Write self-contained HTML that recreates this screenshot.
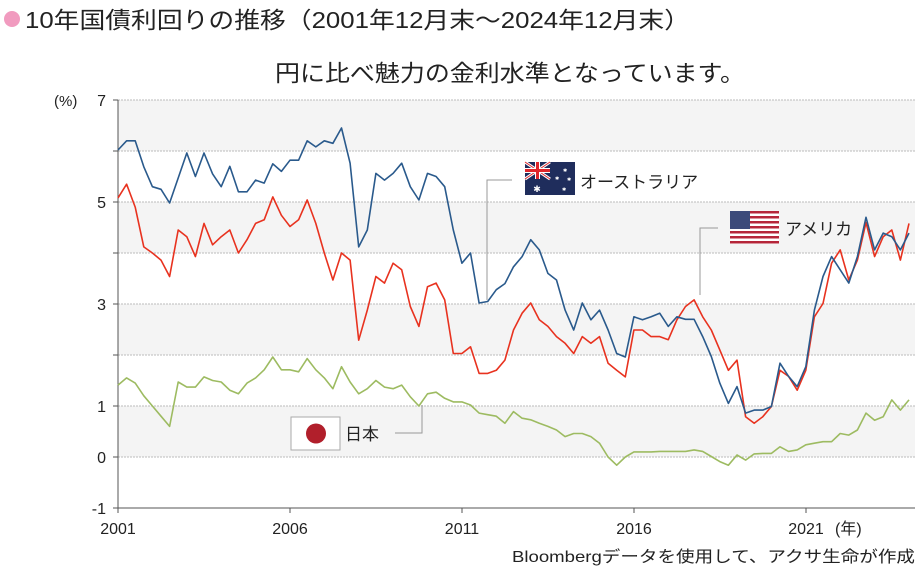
<!DOCTYPE html>
<html><head><meta charset="utf-8">
<style>
body{margin:0;background:#fff;}
svg{display:block;font-family:"Liberation Sans","Noto Sans CJK JP",sans-serif;}
</style></head>
<body>
<svg id="chart" width="920" height="570" viewBox="0 0 920 570">
<circle cx="12" cy="19" r="8" fill="#f19bbf"/>
<text x="25" y="28" font-size="23" fill="#222" textLength="665" lengthAdjust="spacingAndGlyphs">10年国債利回りの推移（2001年12月末～2024年12月末）</text>
<text x="275" y="81" font-size="23" fill="#222" textLength="470" lengthAdjust="spacingAndGlyphs">円に比べ魅力の金利水準となっています。</text>
<text x="54" y="106" font-size="15" fill="#222">(%)</text>
<g id="bands"></g>
<g id="grid"></g>
<g id="axes"></g>
<g id="series"></g>
<g>
<polyline points="487,300 487,180 512,180" fill="none" stroke="#999" stroke-width="1"/>
<rect x="525" y="162" width="50" height="33" fill="#1f2d5c"/>
<line x1="525" y1="162" x2="550" y2="179" stroke="#fff" stroke-width="3"/>
<line x1="550" y1="162" x2="525" y2="179" stroke="#fff" stroke-width="3"/>
<line x1="525" y1="162" x2="550" y2="179" stroke="#e0262b" stroke-width="1"/>
<line x1="550" y1="162" x2="525" y2="179" stroke="#e0262b" stroke-width="1"/>
<rect x="535" y="162" width="5" height="17" fill="#fff"/>
<rect x="525" y="168" width="25" height="5" fill="#fff"/>
<rect x="536" y="162" width="3" height="17" fill="#e0262b"/>
<rect x="525" y="169" width="25" height="3" fill="#e0262b"/>
<text x="537" y="192" font-size="9" fill="#fff" text-anchor="middle">✱</text>
<text x="563" y="172" font-size="5" fill="#fff">✱</text>
<text x="555" y="180" font-size="5" fill="#fff">✱</text>
<text x="567" y="181" font-size="5" fill="#fff">✱</text>
<text x="562" y="191" font-size="5" fill="#fff">✱</text>
<text x="580" y="188" font-size="17" fill="#222">オーストラリア</text>
</g>
<g>
<polyline points="700,295 700,228 718,228" fill="none" stroke="#999" stroke-width="1"/>
<rect x="730" y="211" width="49" height="33" fill="#fff"/>
<g fill="#b5263a">
<rect x="730" y="211" width="49" height="2.5"/><rect x="730" y="216" width="49" height="2.5"/><rect x="730" y="221" width="49" height="2.5"/><rect x="730" y="226" width="49" height="2.5"/><rect x="730" y="231" width="49" height="2.5"/><rect x="730" y="236" width="49" height="2.5"/><rect x="730" y="241" width="49" height="2.5"/>
</g>
<rect x="730" y="211" width="20" height="18" fill="#3b4a7a"/>
<text x="785" y="235" font-size="17" fill="#222">アメリカ</text>
</g>
<g>
<polyline points="395,433 422,433 422,405" fill="none" stroke="#999" stroke-width="1"/>
<rect x="291" y="417" width="49" height="33" fill="#fff" stroke="#aaa" stroke-width="1"/>
<circle cx="316" cy="433.5" r="10" fill="#b11f2b"/>
<text x="345" y="440" font-size="17" fill="#222">日本</text>
</g>
<text x="512" y="562" font-size="16" fill="#222" textLength="403" lengthAdjust="spacingAndGlyphs">Bloombergデータを使用して、アクサ生命が作成</text>
</svg>
<script>
const yTicks=[7,6,5,4,3,2,1,0,-1];
const yTickLabels=["7","","5","","3","","1","0","-1"];
const xTickYears=[2001,2006,2011,2016,2021];
const xTickLabels=["2001","2006","2011","2016","2021"];
const australia=[6.02,6.2,6.2,5.69,5.3,5.25,4.98,5.47,5.96,5.5,5.96,5.55,5.3,5.7,5.2,5.2,5.43,5.37,5.75,5.6,5.82,5.82,6.2,6.08,6.2,6.15,6.45,5.76,4.12,4.45,5.56,5.43,5.56,5.76,5.3,5.04,5.56,5.5,5.3,4.45,3.8,4.0,3.02,3.05,3.28,3.4,3.73,3.93,4.26,4.06,3.6,3.47,2.88,2.49,3.02,2.69,2.88,2.49,2.03,1.96,2.75,2.69,2.75,2.82,2.56,2.75,2.7,2.7,2.36,1.97,1.45,1.05,1.38,0.86,0.92,0.92,0.99,1.84,1.58,1.38,1.77,2.88,3.54,3.93,3.67,3.41,3.93,4.7,4.06,4.39,4.32,4.06,4.39];
const usa=[5.08,5.35,4.9,4.12,4.0,3.86,3.54,4.45,4.32,3.93,4.58,4.16,4.32,4.45,4.0,4.26,4.58,4.65,5.1,4.74,4.52,4.65,5.04,4.58,4.0,3.47,4.0,3.86,2.29,2.88,3.54,3.41,3.8,3.67,2.95,2.56,3.34,3.41,3.08,2.03,2.03,2.16,1.64,1.64,1.7,1.9,2.49,2.82,3.02,2.69,2.56,2.36,2.23,2.03,2.36,2.23,2.36,1.84,1.7,1.57,2.49,2.49,2.36,2.36,2.3,2.69,2.95,3.08,2.75,2.49,2.1,1.7,1.9,0.79,0.66,0.79,0.99,1.7,1.58,1.31,1.7,2.75,3.01,3.8,4.06,3.47,3.86,4.6,3.93,4.32,4.45,3.86,4.58];
const japan=[1.41,1.55,1.45,1.2,1.0,0.8,0.6,1.47,1.37,1.37,1.57,1.5,1.47,1.31,1.24,1.45,1.55,1.71,1.96,1.71,1.71,1.67,1.93,1.71,1.55,1.34,1.77,1.47,1.24,1.34,1.5,1.37,1.34,1.41,1.18,1.0,1.24,1.27,1.15,1.08,1.08,1.02,0.86,0.83,0.8,0.66,0.89,0.76,0.73,0.66,0.6,0.53,0.4,0.46,0.46,0.4,0.27,0.0,-0.16,0.0,0.1,0.1,0.1,0.11,0.11,0.11,0.11,0.14,0.11,0.01,-0.09,-0.16,0.04,-0.06,0.06,0.07,0.07,0.2,0.11,0.14,0.24,0.27,0.3,0.3,0.46,0.43,0.53,0.86,0.72,0.79,1.12,0.92,1.12];

const NS="http://www.w3.org/2000/svg";
const X0=118,X1=909,PX_PER_YEAR=34.4,Y7=100,PX_PER_UNIT=51;
function xYear(yr){return X0+(yr-2001)*PX_PER_YEAR;}
function xIdx(i,n){return X0+i*(X1-X0)/(n-1);}
function yVal(v){return Y7+(7-v)*PX_PER_UNIT;}
function mk(tag,attrs,parent){const e=document.createElementNS(NS,tag);for(const k in attrs)e.setAttribute(k,attrs[k]);parent.appendChild(e);return e;}

const bands=document.getElementById('bands');
[[7,6],[5,4],[3,2],[1,0]].forEach(function(b){
  const r=mk('rect',{x:X0,y:yVal(b[0]),width:915-X0,height:yVal(b[1])-yVal(b[0]),fill:'#f4f4f4'},bands);
  
  
});
const grid=document.getElementById('grid');
yTicks.forEach(function(v,i){
  if(v!==-1){
    const l=mk('line',{x1:X0,x2:915,y1:yVal(v),y2:yVal(v),stroke:'#bbb','stroke-width':1,'stroke-dasharray':'2,1'},grid);
    
    
  }
  const tk=mk('line',{x1:X0-5,x2:X0,y1:yVal(v),y2:yVal(v),stroke:'#555','stroke-width':1},grid);
  
  
  if(yTickLabels[i]){
    const t=mk('text',{x:106,y:yVal(v)+6,'font-size':16,fill:'#222','text-anchor':'end'},grid);
    t.textContent=yTickLabels[i];
    
    
  }
});
const axes=document.getElementById('axes');
const ya=mk('line',{x1:X0,x2:X0,y1:Y7,y2:yVal(-1),stroke:'#555','stroke-width':1},axes);


const xa=mk('line',{x1:X0,x2:915,y1:yVal(-1),y2:yVal(-1),stroke:'#555','stroke-width':1},axes);


xTickYears.forEach(function(yr,i){
  const x=xYear(yr);
  const tk=mk('line',{x1:x,x2:x,y1:yVal(-1),y2:yVal(-1)+5,stroke:'#555','stroke-width':1},axes);
  
  
  const t=mk('text',{x:x,y:534,'font-size':16,fill:'#222','text-anchor':'middle'},axes);
  t.textContent=xTickLabels[i];
  
  
});
const yu=mk('text',{x:835,y:534,'font-size':16,fill:'#222'},axes);
yu.textContent='(年)';



const series=document.getElementById('series');
function drawLine(arr,color,name){
  const pts=arr.map(function(v,i){return xIdx(i,arr.length).toFixed(1)+','+yVal(v).toFixed(1);}).join(' ');
  const p=mk('polyline',{points:pts,fill:'none',stroke:color,'stroke-width':1.6,'stroke-linejoin':'round'},series);
  
  
}
drawLine(japan,'#9dbb61','japan-line');
drawLine(usa,'#e8321f','usa-line');
drawLine(australia,'#2a5a8c','australia-line');
</script>
</body></html>
